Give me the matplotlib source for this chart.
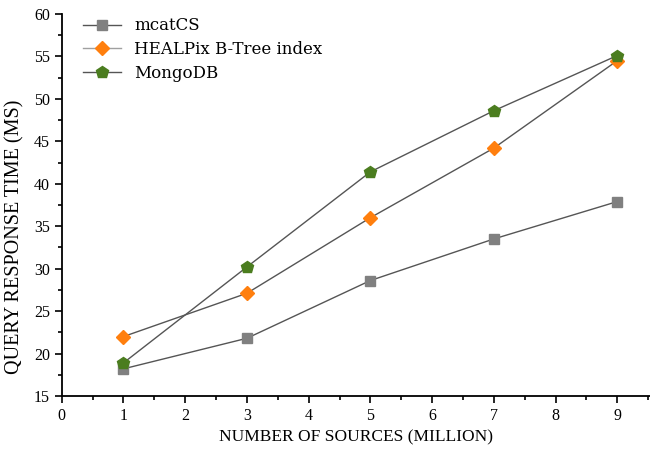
import matplotlib
matplotlib.use('Agg')
from matplotlib import pyplot as plt
from matplotlib.ticker import MultipleLocator

sources = [1, 3, 5, 7, 9]
mcatcs = [18.2, 21.8, 28.6, 33.5, 37.9]
healpix = [22.0, 27.1, 36.0, 44.2, 54.5]
mongodb = [18.9, 30.2, 41.4, 48.6, 55.1]

plt.rcParams['font.family'] = ['Liberation Serif', 'DejaVu Serif']

fig = plt.figure(figsize=(6.5, 4.5), dpi=100)
ax = fig.add_axes([0.095, 0.12, 0.905, 0.849])

line_col = '#555555'
ax.plot(sources, mcatcs, color=line_col, lw=1, marker='s', ms=7,
        mfc='#808080', mec='#808080', label='mcatCS')
ax.plot(sources, healpix, color=line_col, lw=1, marker='D', ms=7,
        mfc='#ff7f0e', mec='#ff7f0e', label='HEALPix B-Tree index')
ax.plot(sources, mongodb, color=line_col, lw=1, marker='p', ms=9,
        mfc='#4b7d1f', mec='#4b7d1f', label='MongoDB')

ax.set_xlim(0, 9.53)
ax.set_ylim(15, 60)
ax.xaxis.set_major_locator(MultipleLocator(1))
ax.xaxis.set_minor_locator(MultipleLocator(0.5))
ax.yaxis.set_major_locator(MultipleLocator(5))
ax.yaxis.set_minor_locator(MultipleLocator(2.5))
ax.tick_params(which='both', direction='out', width=1.2, labelsize=11.5)
ax.tick_params(which='major', length=5)
ax.tick_params(which='minor', length=3)

for s in ['top', 'right']:
    ax.spines[s].set_visible(False)
for s in ['left', 'bottom']:
    ax.spines[s].set_linewidth(1.3)

ax.set_xlabel('NUMBER OF SOURCES (MILLION)', fontsize=12.5)
ax.set_ylabel('QUERY RESPONSE TIME (MS)', fontsize=14.5)
ax.yaxis.set_label_coords(-0.064, 0.416)

leg = ax.legend(loc='upper left', frameon=False, handlelength=2.3,
                bbox_to_anchor=(0.01, 1.03), labelspacing=0.4,
                prop={'family': 'DejaVu Serif', 'size': 12})
leg.get_lines()[1].set_color('#a0a0a0')

fig.savefig('out.png', dpi=100)
plt.close()
